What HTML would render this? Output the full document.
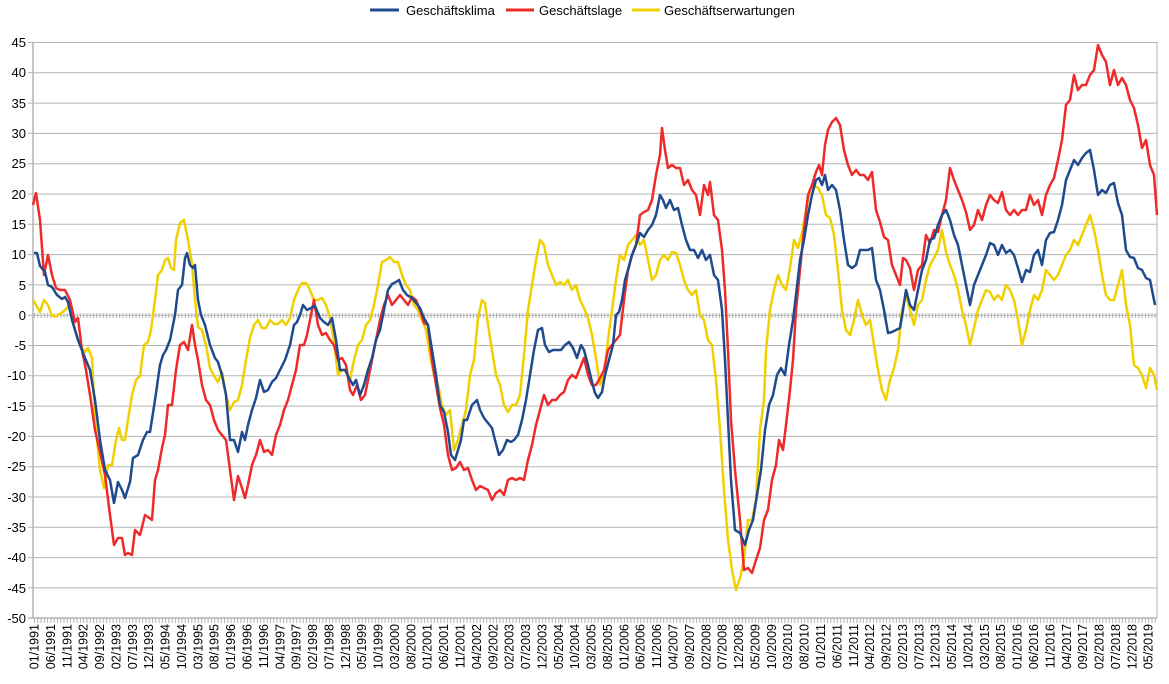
<!DOCTYPE html>
<html><head><meta charset="utf-8"><style>
body{margin:0;background:#fff;}
svg{display:block;font-family:"Liberation Sans",sans-serif;}
</style></head><body>
<svg width="1169" height="684" viewBox="0 0 1169 684" xmlns="http://www.w3.org/2000/svg">
<defs>
<pattern id="tk" x="34" y="0" width="3.277" height="684" patternUnits="userSpaceOnUse"><rect x="0" y="0" width="1" height="684" fill="#b3b3b3"/></pattern>
</defs>
<g stroke="#b3b3b3" stroke-width="1">
<line x1="28" y1="42.5" x2="1157" y2="42.5"/><line x1="28" y1="72.8" x2="1157" y2="72.8"/><line x1="28" y1="103.1" x2="1157" y2="103.1"/><line x1="28" y1="133.4" x2="1157" y2="133.4"/><line x1="28" y1="163.7" x2="1157" y2="163.7"/><line x1="28" y1="194" x2="1157" y2="194"/><line x1="28" y1="224.3" x2="1157" y2="224.3"/><line x1="28" y1="254.6" x2="1157" y2="254.6"/><line x1="28" y1="284.9" x2="1157" y2="284.9"/><line x1="28" y1="315.2" x2="1157" y2="315.2"/><line x1="28" y1="345.5" x2="1157" y2="345.5"/><line x1="28" y1="375.8" x2="1157" y2="375.8"/><line x1="28" y1="406.1" x2="1157" y2="406.1"/><line x1="28" y1="436.4" x2="1157" y2="436.4"/><line x1="28" y1="466.7" x2="1157" y2="466.7"/><line x1="28" y1="497" x2="1157" y2="497"/><line x1="28" y1="527.3" x2="1157" y2="527.3"/><line x1="28" y1="557.6" x2="1157" y2="557.6"/><line x1="28" y1="587.9" x2="1157" y2="587.9"/>
<line x1="1157" y1="42" x2="1157" y2="618"/>
</g>
<rect x="33" y="618" width="1124" height="5" fill="url(#tk)"/>
<rect x="33" y="313" width="1124" height="5" fill="url(#tk)"/>
<line x1="28" y1="618" x2="1157" y2="618" stroke="#b3b3b3" stroke-width="1.5"/>
<line x1="33" y1="42" x2="33" y2="618" stroke="#b3b3b3" stroke-width="1.5"/>
<g font-size="13" fill="#000" text-anchor="end">
<text x="26" y="47">45</text><text x="26" y="77">40</text><text x="26" y="108">35</text><text x="26" y="138">30</text><text x="26" y="168">25</text><text x="26" y="199">20</text><text x="26" y="229">15</text><text x="26" y="259">10</text><text x="26" y="290">5</text><text x="26" y="320">0</text><text x="26" y="350">-5</text><text x="26" y="380">-10</text><text x="26" y="411">-15</text><text x="26" y="441">-20</text><text x="26" y="471">-25</text><text x="26" y="502">-30</text><text x="26" y="532">-35</text><text x="26" y="562">-40</text><text x="26" y="593">-45</text><text x="26" y="623">-50</text>
</g>
<polyline fill="none" stroke="#f0d000" stroke-width="2.5" stroke-linejoin="round" points="33,300 36,305 40,312 44,300 48,305 52,316 56,316 60,314 65,310 70,305 75,330 80,345 85,352 88,348 92,358 95,420 100,470 104,488 108,465 112,465 116,440 119,428 122,440 125,440 128,420 132,395 136,380 140,376 144,345 148,342 151,330 155,300 158,275 162,270 165,260 168,258 171,268 174,270 176,240 180,223 184,220 188,240 192,264 195,300 198,327 202,330 206,345 210,368 214,376 218,382 222,372 226,395 230,410 234,402 238,400 242,385 246,360 250,338 254,325 258,320 262,328 266,328 270,320 274,324 278,324 282,320 286,325 290,318 294,300 298,290 302,283 306,283 310,290 314,300 318,300 322,298 326,305 330,318 334,342 338,375 342,370 346,370 350,380 354,360 358,345 362,340 366,325 370,320 374,305 378,285 382,262 386,260 390,257 394,262 398,262 402,275 406,285 410,290 414,305 418,310 422,320 426,330 430,355 434,375 438,385 442,405 446,415 450,410 454,450 458,440 462,425 466,410 470,375 474,360 478,318 482,300 485,303 488,325 492,350 496,375 500,385 504,405 508,412 512,405 516,405 520,395 524,355 528,310 532,285 536,260 540,240 544,245 548,265 552,275 556,285 560,282 564,285 568,280 572,290 576,285 580,300 584,308 588,318 592,335 596,358 600,385 604,375 608,340 612,310 616,280 620,255 624,260 628,245 632,240 636,235 640,245 644,240 648,260 652,280 656,275 660,260 664,255 668,260 672,252 676,253 680,265 684,280 688,290 692,295 696,290 700,315 704,320 708,340 712,345 716,380 720,430 724,490 728,540 732,570 736,590 740,578 744,560 748,520 752,520 756,500 760,430 764,400 766,350 770,310 774,290 778,275 782,285 786,290 790,268 794,240 798,248 802,233 806,210 810,190 814,185 818,188 822,195 826,215 830,218 834,235 838,270 842,310 846,330 850,335 854,320 858,300 862,315 866,325 870,320 874,345 878,370 882,390 886,400 890,380 894,368 898,350 902,310 906,295 910,310 914,325 918,305 922,300 926,280 930,265 934,258 938,250 942,230 946,252 950,265 954,275 958,290 962,310 966,325 970,345 974,328 978,310 982,300 986,290 990,292 994,300 998,295 1002,300 1006,285 1010,290 1014,300 1018,320 1022,345 1026,330 1030,310 1034,295 1038,300 1042,290 1046,270 1050,275 1054,280 1058,275 1062,265 1066,255 1070,250 1074,240 1078,245 1082,235 1086,225 1090,215 1094,230 1098,250 1102,275 1106,295 1110,300 1114,300 1118,285 1122,270 1126,305 1130,325 1134,365 1138,368 1142,375 1146,388 1150,368 1154,375 1157,390"/>
<polyline fill="none" stroke="#ee2a2a" stroke-width="2.5" stroke-linejoin="round" points="33,205 36,193 40,220 44,275 48,255 52,275 56,288 60,290 65,290 70,300 75,322 78,318 82,350 86,370 90,395 95,430 100,452 105,475 110,515 114,545 118,538 122,538 125,555 128,553 132,555 135,530 140,535 145,515 148,517 152,520 155,480 158,470 162,448 165,435 168,405 172,405 176,370 180,345 184,342 188,350 192,325 195,345 198,360 202,385 206,400 210,405 214,420 218,430 222,435 226,440 230,470 234,500 238,476 242,488 245,498 248,485 252,465 256,455 260,440 264,452 268,450 272,455 276,435 280,425 284,410 288,400 292,385 296,370 300,345 304,345 307,335 310,320 314,300 318,325 322,335 326,333 330,340 334,345 338,360 342,358 346,365 350,390 353,395 357,385 361,400 365,395 368,380 372,360 376,340 380,320 384,305 388,295 392,305 396,300 400,295 404,300 408,305 412,297 416,300 420,310 424,323 428,325 432,360 436,385 440,408 444,425 448,455 452,470 456,468 460,462 464,470 468,468 472,480 476,490 480,486 484,488 488,490 492,500 496,493 500,490 504,495 508,480 512,478 516,480 520,478 524,480 528,460 532,445 536,425 540,410 544,395 548,405 552,400 556,400 560,395 564,392 568,380 572,375 576,378 580,368 584,358 588,375 592,385 596,385 600,378 604,370 608,350 612,345 616,340 620,335 624,300 628,270 632,255 636,245 640,215 644,212 648,210 652,200 656,175 660,155 662,128 665,150 668,168 672,165 676,168 680,168 684,185 688,180 692,190 696,195 700,215 704,185 708,195 710,182 714,215 718,220 722,250 725,290 728,350 731,420 735,470 740,520 744,570 748,568 752,573 756,560 760,548 764,520 768,510 772,480 776,465 779,440 783,450 786,425 790,390 793,360 796,310 800,270 804,230 808,195 812,185 816,172 819,165 822,175 825,145 828,130 832,122 836,118 840,125 844,150 848,165 852,175 856,170 860,175 864,175 868,180 872,172 876,210 880,222 884,237 888,240 892,265 896,275 900,285 903,258 906,260 910,268 914,290 918,270 922,265 926,235 930,243 934,230 938,232 942,215 946,200 950,168 954,180 958,190 962,200 966,212 970,230 974,225 978,210 982,220 986,205 990,195 994,200 998,203 1002,192 1006,210 1010,215 1014,210 1018,215 1022,210 1026,210 1030,195 1034,205 1038,200 1042,215 1046,195 1050,185 1054,178 1058,160 1062,140 1066,105 1070,100 1074,75 1078,90 1082,85 1086,85 1090,75 1094,70 1098,45 1102,55 1106,62 1110,85 1114,70 1118,85 1122,78 1126,85 1130,100 1134,108 1138,125 1142,148 1146,140 1150,165 1154,175 1157,215"/>
<polyline fill="none" stroke="#1f4b8e" stroke-width="2.5" stroke-linejoin="round" points="34,253 37,253 40,266 45,272 48,285 52,287 57,295 62,299 65,297 68,302 72,320 78,340 85,358 90,370 95,400 100,440 105,470 110,480 114,503 118,482 122,490 125,498 130,482 133,458 138,455 143,440 147,432 150,432 155,400 160,365 163,355 166,350 170,340 175,315 178,290 182,285 185,258 187,253 190,265 193,268 195,265 198,300 201,315 205,325 210,345 215,358 218,362 222,375 226,395 230,440 234,440 238,452 242,432 245,440 248,425 252,410 256,398 260,380 264,392 268,390 272,382 276,378 280,370 285,360 290,345 294,325 297,322 300,315 303,305 307,310 311,308 315,306 320,318 324,322 328,325 332,318 336,340 340,370 345,370 349,378 353,385 356,380 360,395 364,385 368,370 372,358 376,340 380,330 384,310 388,290 392,284 396,282 399,280 403,290 407,295 412,298 416,303 420,308 424,318 428,325 432,350 436,375 440,405 444,412 448,432 451,455 455,460 458,450 461,440 464,420 467,420 472,405 477,400 480,410 484,418 488,423 492,428 495,440 499,455 503,450 507,440 511,442 514,440 518,435 522,420 526,400 530,375 534,350 538,330 542,328 545,345 549,352 553,350 557,350 561,350 565,345 569,342 573,348 577,358 581,345 584,350 588,365 592,382 595,393 598,398 602,392 605,375 609,360 613,345 616,315 619,312 622,300 625,280 628,270 632,255 636,245 640,233 644,237 648,230 652,225 656,215 660,195 663,200 666,208 670,200 674,210 678,208 682,225 686,240 690,250 694,250 698,258 702,250 706,260 710,255 714,275 718,280 722,310 725,360 728,420 731,480 735,530 740,533 745,545 749,530 753,520 757,495 761,470 765,430 769,405 773,395 777,375 781,368 785,375 789,345 793,320 796,295 800,260 804,240 808,215 812,195 816,180 819,178 822,185 825,175 828,190 832,185 836,190 840,210 844,240 848,265 852,268 856,265 860,250 864,250 868,250 872,248 876,280 880,290 884,310 888,333 892,332 896,330 900,328 903,310 906,290 910,305 914,310 918,290 922,270 926,260 930,240 934,238 938,225 942,215 946,210 950,220 954,235 958,245 962,265 966,285 970,305 974,285 978,275 982,265 986,255 990,243 994,245 998,255 1002,245 1006,253 1010,250 1014,255 1018,268 1022,282 1026,270 1030,272 1034,255 1038,250 1042,265 1046,240 1050,233 1054,232 1058,220 1062,205 1066,180 1070,170 1074,160 1078,165 1082,158 1086,153 1090,150 1094,170 1098,195 1102,190 1106,193 1110,185 1114,183 1118,203 1122,215 1126,250 1130,257 1134,258 1138,268 1142,270 1146,278 1150,280 1155,305"/>
<g stroke-width="3"><line x1="370" y1="10" x2="399" y2="10" stroke="#1f4b8e"/><line x1="506" y1="10" x2="534" y2="10" stroke="#ee2a2a"/><line x1="632" y1="10" x2="660" y2="10" stroke="#f0d000"/></g>
<g font-size="13" fill="#000"><text x="406" y="15">Geschäftsklima</text><text x="539" y="15">Geschäftslage</text><text x="664" y="15">Geschäftserwartungen</text></g>
<g font-size="12.5" fill="#000" text-anchor="end">
<text transform="translate(38.5,624) rotate(-90)">01/1991</text>
<text transform="translate(54.9,624) rotate(-90)">06/1991</text>
<text transform="translate(71.3,624) rotate(-90)">11/1991</text>
<text transform="translate(87.7,624) rotate(-90)">04/1992</text>
<text transform="translate(104,624) rotate(-90)">09/1992</text>
<text transform="translate(120.4,624) rotate(-90)">02/1993</text>
<text transform="translate(136.8,624) rotate(-90)">07/1993</text>
<text transform="translate(153.2,624) rotate(-90)">12/1993</text>
<text transform="translate(169.6,624) rotate(-90)">05/1994</text>
<text transform="translate(186,624) rotate(-90)">10/1994</text>
<text transform="translate(202.4,624) rotate(-90)">03/1995</text>
<text transform="translate(218.7,624) rotate(-90)">08/1995</text>
<text transform="translate(235.1,624) rotate(-90)">01/1996</text>
<text transform="translate(251.5,624) rotate(-90)">06/1996</text>
<text transform="translate(267.9,624) rotate(-90)">11/1996</text>
<text transform="translate(284.3,624) rotate(-90)">04/1997</text>
<text transform="translate(300.7,624) rotate(-90)">09/1997</text>
<text transform="translate(317,624) rotate(-90)">02/1998</text>
<text transform="translate(333.4,624) rotate(-90)">07/1998</text>
<text transform="translate(349.8,624) rotate(-90)">12/1998</text>
<text transform="translate(366.2,624) rotate(-90)">05/1999</text>
<text transform="translate(382.6,624) rotate(-90)">10/1999</text>
<text transform="translate(399,624) rotate(-90)">03/2000</text>
<text transform="translate(415.4,624) rotate(-90)">08/2000</text>
<text transform="translate(431.7,624) rotate(-90)">01/2001</text>
<text transform="translate(448.1,624) rotate(-90)">06/2001</text>
<text transform="translate(464.5,624) rotate(-90)">11/2001</text>
<text transform="translate(480.9,624) rotate(-90)">04/2002</text>
<text transform="translate(497.3,624) rotate(-90)">09/2002</text>
<text transform="translate(513.7,624) rotate(-90)">02/2003</text>
<text transform="translate(530.1,624) rotate(-90)">07/2003</text>
<text transform="translate(546.4,624) rotate(-90)">12/2003</text>
<text transform="translate(562.8,624) rotate(-90)">05/2004</text>
<text transform="translate(579.2,624) rotate(-90)">10/2004</text>
<text transform="translate(595.6,624) rotate(-90)">03/2005</text>
<text transform="translate(612,624) rotate(-90)">08/2005</text>
<text transform="translate(628.4,624) rotate(-90)">01/2006</text>
<text transform="translate(644.7,624) rotate(-90)">06/2006</text>
<text transform="translate(661.1,624) rotate(-90)">11/2006</text>
<text transform="translate(677.5,624) rotate(-90)">04/2007</text>
<text transform="translate(693.9,624) rotate(-90)">09/2007</text>
<text transform="translate(710.3,624) rotate(-90)">02/2008</text>
<text transform="translate(726.7,624) rotate(-90)">07/2008</text>
<text transform="translate(743.1,624) rotate(-90)">12/2008</text>
<text transform="translate(759.4,624) rotate(-90)">05/2009</text>
<text transform="translate(775.8,624) rotate(-90)">10/2009</text>
<text transform="translate(792.2,624) rotate(-90)">03/2010</text>
<text transform="translate(808.6,624) rotate(-90)">08/2010</text>
<text transform="translate(825,624) rotate(-90)">01/2011</text>
<text transform="translate(841.4,624) rotate(-90)">06/2011</text>
<text transform="translate(857.8,624) rotate(-90)">11/2011</text>
<text transform="translate(874.1,624) rotate(-90)">04/2012</text>
<text transform="translate(890.5,624) rotate(-90)">09/2012</text>
<text transform="translate(906.9,624) rotate(-90)">02/2013</text>
<text transform="translate(923.3,624) rotate(-90)">07/2013</text>
<text transform="translate(939.7,624) rotate(-90)">12/2013</text>
<text transform="translate(956.1,624) rotate(-90)">05/2014</text>
<text transform="translate(972.4,624) rotate(-90)">10/2014</text>
<text transform="translate(988.8,624) rotate(-90)">03/2015</text>
<text transform="translate(1005.2,624) rotate(-90)">08/2015</text>
<text transform="translate(1021.6,624) rotate(-90)">01/2016</text>
<text transform="translate(1038,624) rotate(-90)">06/2016</text>
<text transform="translate(1054.4,624) rotate(-90)">11/2016</text>
<text transform="translate(1070.8,624) rotate(-90)">04/2017</text>
<text transform="translate(1087.1,624) rotate(-90)">09/2017</text>
<text transform="translate(1103.5,624) rotate(-90)">02/2018</text>
<text transform="translate(1119.9,624) rotate(-90)">07/2018</text>
<text transform="translate(1136.3,624) rotate(-90)">12/2018</text>
<text transform="translate(1152.7,624) rotate(-90)">05/2019</text>
</g>
</svg>
</body></html>
